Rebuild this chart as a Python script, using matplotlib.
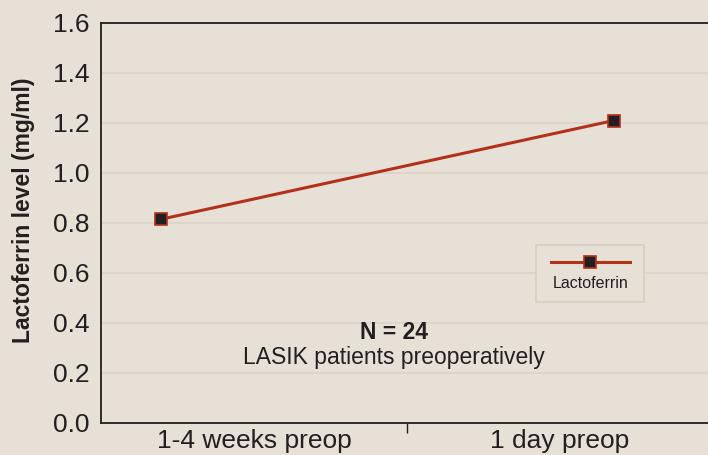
import matplotlib
matplotlib.use("Agg")
import matplotlib.pyplot as plt
from matplotlib.patches import Rectangle
from matplotlib.lines import Line2D

plt.rcParams['font.family'] = ['Liberation Sans', 'DejaVu Sans']

categories = ["1-4 weeks preop", "1 day preop"]
category_pos = [0.5, 1.5]
point_x = [0.196, 1.676]
lactoferrin = [0.815, 1.21]
series_name = "Lactoferrin"
yticks = [0.0, 0.2, 0.4, 0.6, 0.8, 1.0, 1.2, 1.4, 1.6]

bg = "#e6e0d7"
red = "#b3311b"
dark = "#231f20"

fig = plt.figure(figsize=(7.08, 4.55), dpi=100, facecolor=bg)
ax = fig.add_axes([101/708, 32/455, 612/708, 400/455])
ax.set_facecolor(bg)

for y in yticks[1:-1]:
    ax.axhline(y, color="#dcd3c7", lw=1.2, zorder=0)

ax.plot(point_x, lactoferrin, color=red, lw=2.2, marker="s", markersize=8,
        markerfacecolor=dark, markeredgecolor=red, markeredgewidth=1.2, zorder=3)

ax.set_xlim(0, 2)
ax.set_ylim(0, 1.6)
ax.set_yticks(yticks)
ax.set_yticklabels([f"{v:.1f}" for v in yticks], fontsize=19, color=dark)
ax.tick_params(axis='y', length=0, pad=8)
ax.set_xticks([1.0])
ax.set_xticklabels([""])
ax.tick_params(axis='x', length=7, width=1, color=dark, direction='out')
for x, lab in zip(category_pos, categories):
    ax.text(x, -0.015, lab, ha='center', va='top', fontsize=19, color=dark,
            transform=ax.get_xaxis_transform())

for s in ["left", "bottom", "top"]:
    ax.spines[s].set_color(dark)
    ax.spines[s].set_linewidth(1.3)
ax.spines["right"].set_visible(False)

fig.text(24/708, 1 - 210/455, "Lactoferrin level (mg/ml)", rotation=90,
         ha='center', va='center', fontsize=16.5, fontweight='bold', color=dark)

ax.text(0.957, 0.362, "N = 24", ha='center', va='center', fontsize=16.5,
        fontweight='bold', color=dark)
ax.text(0.957, 0.262, "LASIK patients preoperatively", ha='center', va='center',
        fontsize=16.5, color=dark)

# legend
ax.add_patch(Rectangle((0.711, 0.3025), 0.176, 0.1425, transform=ax.transAxes,
                       facecolor=bg, edgecolor="#d8cfc2", lw=1.2, zorder=4))
ax.add_line(Line2D([0.735, 0.864], [0.4025, 0.4025], transform=ax.transAxes,
                   color=red, lw=2.2, zorder=5))
ax.add_line(Line2D([0.799], [0.4025], transform=ax.transAxes, marker="s",
                   markersize=8, markerfacecolor=dark, markeredgecolor=red,
                   markeredgewidth=1.2, zorder=6))
ax.text(0.80, 0.35, series_name, transform=ax.transAxes, ha='center', va='center',
        fontsize=11.5, color=dark, zorder=6)

fig.savefig("out.png", dpi=100, facecolor=bg)
